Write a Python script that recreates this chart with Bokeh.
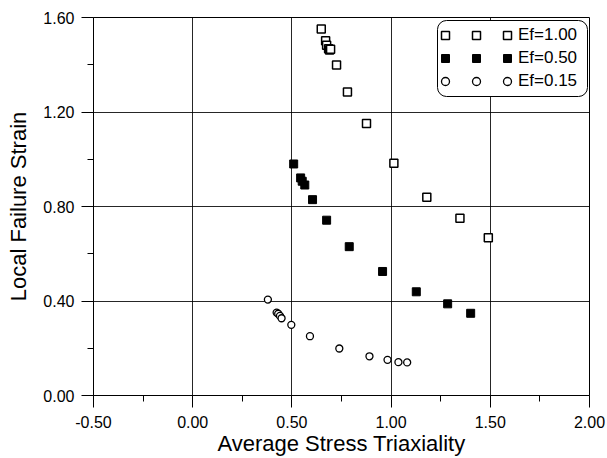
from bokeh.plotting import figure
from bokeh.models import (FixedTicker, NumeralTickFormatter, Legend, LegendItem,
                          BoxAnnotation, Range1d)
from bokeh.embed import file_html
from bokeh.resources import INLINE

# Local failure strain vs. average stress triaxiality for three Ef levels
triax_100 = [0.648, 0.670, 0.675, 0.685, 0.690, 0.695, 0.725, 0.780, 0.876, 1.014, 1.180, 1.347, 1.490]
strain_100 = [1.551, 1.502, 1.483, 1.468, 1.462, 1.466, 1.399, 1.285, 1.151, 0.983, 0.839, 0.750, 0.668]

triax_050 = [0.509, 0.544, 0.552, 0.565, 0.604, 0.675, 0.789, 0.957, 1.127, 1.285, 1.401]
strain_050 = [0.980, 0.921, 0.907, 0.891, 0.829, 0.742, 0.630, 0.525, 0.439, 0.388, 0.348]

triax_015 = [0.379, 0.423, 0.431, 0.440, 0.448, 0.497, 0.591, 0.739, 0.891, 0.982, 1.037, 1.081]
strain_015 = [0.406, 0.351, 0.346, 0.337, 0.327, 0.299, 0.251, 0.199, 0.166, 0.151, 0.141, 0.140]

series_labels = ["Ef=1.00", "Ef=0.50", "Ef=0.15"]

x_major_ticks = [-0.5, 0.0, 0.5, 1.0, 1.5, 2.0]
x_minor_ticks = [-0.25, 0.25, 0.75, 1.25, 1.75]
y_major_ticks = [0.0, 0.4, 0.8, 1.2, 1.6]
y_minor_ticks = [0.2, 0.6, 1.0, 1.4]

FONT = "Liberation Sans"

p = figure(width=607, height=458, output_backend="svg", toolbar_location=None,
           x_range=Range1d(-0.5, 2.0), y_range=Range1d(0.0, 1.6),
           min_border_left=93, min_border_right=18, min_border_top=17,
           min_border_bottom=63)
p.background_fill_color = "white"
p.border_fill_color = "white"
p.outline_line_color = "black"
p.outline_line_width = 1

# axes
for ax in (p.xaxis[0], p.yaxis[0]):
    ax.major_tick_in = 0
    ax.major_tick_out = 12
    ax.minor_tick_in = 0
    ax.minor_tick_out = 6
    ax.axis_line_color = "black"
    ax.major_tick_line_color = "black"
    ax.minor_tick_line_color = "black"
    ax.major_label_text_font = FONT
    ax.major_label_text_font_size = "16px"
    ax.major_label_text_color = "black"
    ax.axis_label_text_font = FONT
    ax.axis_label_text_font_size = "22px"
    ax.axis_label_text_font_style = "normal"
    ax.axis_label_text_color = "black"
    ax.formatter = NumeralTickFormatter(format="0.00")

p.xaxis.ticker = FixedTicker(ticks=x_major_ticks, minor_ticks=x_minor_ticks)
p.yaxis.ticker = FixedTicker(ticks=y_major_ticks, minor_ticks=y_minor_ticks)
p.xaxis.axis_label = "Average Stress Triaxiality"
p.yaxis.axis_label = "Local Failure Strain"
p.xaxis.major_label_standoff = 8
p.yaxis.major_label_standoff = 7
p.xaxis.axis_label_standoff = 0
p.yaxis.axis_label_standoff = 9

p.xgrid.ticker = FixedTicker(ticks=x_major_ticks)
p.ygrid.ticker = FixedTicker(ticks=y_major_ticks)
for g in (p.xgrid[0], p.ygrid[0]):
    g.grid_line_color = "black"
    g.grid_line_width = 1
    g.grid_line_alpha = 0.85

# data series
r100 = p.scatter(triax_100, strain_100, marker="square", size=8,
                 fill_color="white", line_color="black", line_width=1.5)
r050 = p.scatter(triax_050, strain_050, marker="square", size=8,
                 fill_color="black", line_color="black", line_width=1)
r015 = p.scatter(triax_015, strain_015, marker="circle", size=7,
                 fill_color="white", line_color="black", line_width=1.3)
renderers = [r100, r050, r015]

# legend frame with rounded corners
box = BoxAnnotation(left=344, right=494, bottom=299, top=375,
                    left_units="screen", right_units="screen",
                    top_units="screen", bottom_units="screen",
                    fill_color="white", fill_alpha=1.0,
                    line_color="black", line_alpha=1.0, line_width=1,
                    border_radius=9, level="annotation")
p.add_layout(box)


def marker_column(x_off, labels, standoff):
    items = [LegendItem(label=lab, renderers=[r]) for lab, r in zip(labels, renderers)]
    lg = Legend(items=items, location=(x_off, 304), orientation="vertical",
                padding=0, margin=0, spacing=3, glyph_width=20, glyph_height=20,
                label_height=20, label_standoff=standoff,
                background_fill_alpha=0, border_line_alpha=0,
                label_text_font=FONT, label_text_font_size="17px",
                label_text_color="black")
    p.add_layout(lg)


# three columns of markers; the last one carries the labels
marker_column(342, [" ", " ", " "], 2)
marker_column(373, [" ", " ", " "], 2)
marker_column(404, series_labels, 1)

open("out.html", "w").write(file_html(p, INLINE))
